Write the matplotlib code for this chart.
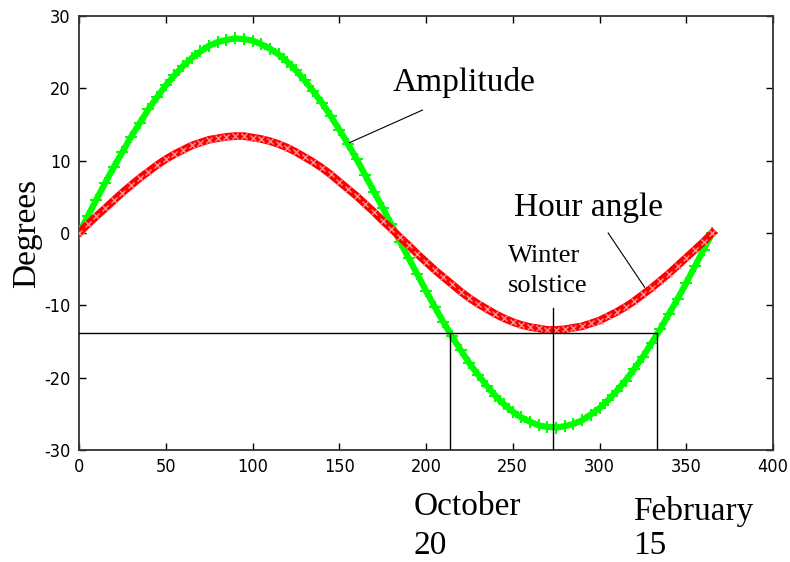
import matplotlib.pyplot as plt
import numpy as np

# day of year (every 5 days)
days = np.arange(0, 366, 5)

amplitude = [0.0, 2.3, 4.6, 6.9, 9.1, 11.2, 13.3, 15.2, 17.1, 18.8,
             20.4, 21.8, 23.1, 24.2, 25.1, 25.9, 26.4, 26.7, 26.9, 26.8,
             26.6, 26.1, 25.5, 24.7, 23.7, 22.5, 21.1, 19.6, 18.0, 16.2,
             14.3, 12.3, 10.2, 8.0, 5.7, 3.5, 1.2, -1.2, -3.5, -5.7,
             -8.0, -10.2, -12.3, -14.3, -16.2, -18.0, -19.6, -21.1, -22.5, -23.7,
             -24.7, -25.5, -26.1, -26.6, -26.8, -26.9, -26.7, -26.4, -25.9, -25.1,
             -24.2, -23.1, -21.8, -20.4, -18.8, -17.1, -15.2, -13.3, -11.2, -9.1,
             -6.9, -4.6, -2.3, 0.0]

hour_angle = [0.0, 1.2, 2.3, 3.4, 4.5, 5.6, 6.6, 7.6, 8.5, 9.4,
              10.2, 10.9, 11.5, 12.1, 12.5, 12.9, 13.1, 13.3, 13.4, 13.4,
              13.2, 13.0, 12.7, 12.3, 11.8, 11.2, 10.5, 9.8, 9.0, 8.1,
              7.1, 6.1, 5.1, 4.0, 2.9, 1.7, 0.6, -0.6, -1.7, -2.9,
              -4.0, -5.1, -6.1, -7.1, -8.1, -9.0, -9.8, -10.5, -11.2, -11.8,
              -12.3, -12.7, -13.0, -13.2, -13.4, -13.4, -13.3, -13.1, -12.9, -12.5,
              -12.1, -11.5, -10.9, -10.2, -9.4, -8.5, -7.6, -6.6, -5.6, -4.5,
              -3.4, -2.3, -1.2, 0.0]

# reference lines
level = -13.8
october_day = 214
solstice_day = 273
february_day = 333
solstice_top = -10.4

plt.rcParams['axes.unicode_minus'] = False

fig = plt.figure(figsize=(7.9, 5.62), dpi=100)
ax = fig.add_axes([0.1, 0.1993, 0.8785, 0.7722])

ax.plot(days, amplitude, color='#00ff00', lw=4.5, marker='+', ms=9, mew=1.5, zorder=3)
ax.plot(days, hour_angle, color='#ff0000', lw=5.5, marker='x', ms=5, mew=1, mec='#ff9090', zorder=4)

ax.plot([0, february_day], [level, level], color='black', lw=1, zorder=5)
ax.plot([october_day, october_day], [-30, level], color='black', lw=1, zorder=5)
ax.plot([february_day, february_day], [-30, level], color='black', lw=1, zorder=5)
ax.plot([solstice_day, solstice_day], [-30, solstice_top], color='black', lw=1, zorder=5)

ax.set_xlim(0, 400)
ax.set_ylim(-30, 30)
ax.set_xticks(np.arange(0, 401, 50))
ax.set_yticks(np.arange(-30, 31, 10))
ax.tick_params(direction='in', top=True, right=True, length=5, width=1, pad=6)
for lbl in ax.get_xticklabels() + ax.get_yticklabels():
    lbl.set_family(['Liberation Sans Narrow', 'DejaVu Sans'])
    lbl.set_stretch('condensed')
    lbl.set_fontsize(13)
for sp in ax.spines.values():
    sp.set_linewidth(1.3)
    sp.set_color('#333333')

serif = ['Liberation Serif', 'DejaVu Serif']
ax.text(181, 19.6, 'Amplitude', fontsize=24, family=serif, va='baseline')
ax.plot([198, 156], [17.0, 12.5], color='black', lw=0.8, zorder=6)
ax.text(251, 2.3, 'Hour angle', fontsize=24, family=serif, va='baseline')
ax.plot([305, 326], [0.0, -7.5], color='black', lw=0.8, zorder=6)
ax.text(247, -4.0, 'Winter', fontsize=19, family=serif, va='baseline')
ax.text(247, -8.2, 'solstice', fontsize=19, family=serif, va='baseline')

fig.text(0.034, 0.585, 'Degrees', fontsize=24, family=serif, rotation=90, ha='center', va='center')
fig.text(0.524, 0.0836, 'October', fontsize=24, family=serif, va='baseline')
fig.text(0.524, 0.0135, '20', fontsize=24, family=serif, va='baseline')
fig.text(0.801, 0.0747, 'February', fontsize=24, family=serif, va='baseline')
fig.text(0.801, 0.0135, '15', fontsize=24, family=serif, va='baseline')

fig.savefig('out.png', dpi=100)
